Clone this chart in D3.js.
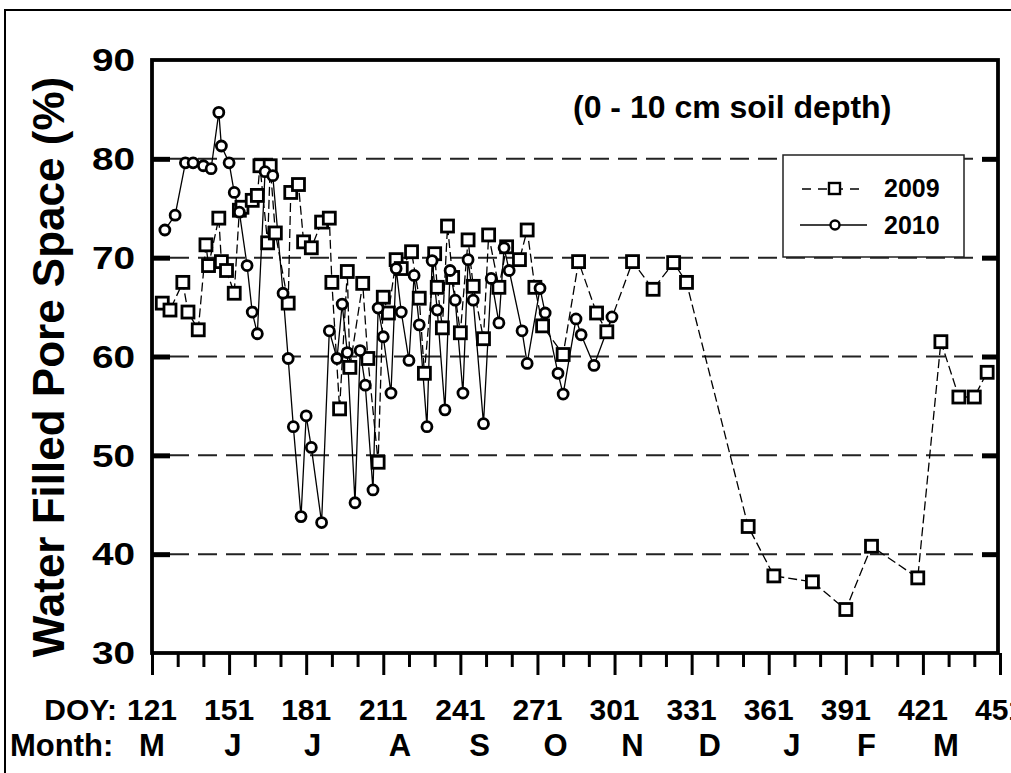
<!DOCTYPE html>
<html>
<head>
<meta charset="utf-8">
<script src="https://cdn.jsdelivr.net/npm/d3@7"></script>
<style>
  body { margin: 0; background: #fff; }
  svg text { font-family: "Liberation Sans", Arial, sans-serif; font-weight: bold; fill: #000; }
</style>
</head>
<body>
<svg id="chart"></svg>
<script>
// 2009 readings (squares, dashed line)
var doy2009 = [125,128,133,135,139,142,143,147,148,150,153,155,156,160,162,163,166,167,169,174,
  175,178,180,183,187,190,191,194,197,198,203,205,209,211,213,216,218,222,225,227,
  231,232,234,236,238,241,244,246,250,252,256,259,264,267,270,273,281,287,294,298,
  308,316,324,329,353,363,378,391,401,419,428,435,441,446];
var wfps2009 = [65.4,64.7,67.5,64.5,62.7,71.3,69.2,74.0,69.6,68.7,66.4,74.8,75.1,75.8,76.3,79.3,71.5,79.3,72.5,65.4,
  76.6,77.4,71.6,71.0,73.6,74.0,67.5,54.7,68.6,58.9,67.4,59.8,49.3,66.0,64.4,69.8,68.9,70.6,65.9,58.3,
  70.4,67.0,62.9,73.2,68.0,62.4,71.8,67.1,61.8,72.3,67.0,71.1,69.8,72.8,67.0,63.1,60.2,69.6,64.4,62.5,
  69.6,66.8,69.5,67.5,42.8,37.8,37.2,34.4,40.8,37.6,61.5,55.9,55.9,58.4];

// 2010 readings (circles, solid line)
var doy2010 = [126,130,134,137,141,144,147,148,151,153,155,158,160,162,165,168,172,174,176,179,
  181,183,187,190,193,195,197,200,202,204,207,209,211,214,216,218,221,223,225,228,
  230,232,235,237,239,242,244,246,250,253,256,258,260,265,267,272,274,279,281,286,
  288,293,300];
var wfps2010 = [72.8,74.3,79.6,79.6,79.3,79.0,84.7,81.3,79.6,76.6,74.6,69.2,64.5,62.3,78.7,78.3,66.4,59.8,52.9,43.8,
  54.0,50.8,43.2,62.6,59.8,65.3,60.4,45.2,60.6,57.1,46.5,64.9,62.0,56.3,68.9,64.5,59.6,68.2,63.2,52.9,
  69.7,64.7,54.6,68.7,65.7,56.3,69.8,65.7,53.2,67.9,63.4,71.0,68.7,62.6,59.3,66.9,64.4,58.3,56.2,63.8,
  62.2,59.1,64.0];

var yTicks = [30,40,50,60,70,80,90];
var gridValues = [40,50,60,70,80];
var doyTicks = [121,151,181,211,241,271,301,331,361,391,421,451];
var monthLetters = ["M","J","J","A","S","O","N","D","J","F","M"];
var monthDoy = [121,152.5,183.5,217.5,248.5,278,308,338,370,399,430];

var width = 1011, height = 773;
var svg = d3.select("#chart").attr("width", width).attr("height", height);

var x = d3.scaleLinear().domain([121, 451]).range([152, 1000]);
var y = d3.scaleLinear().domain([30, 90]).range([653, 60]);

// outer border of the figure
svg.append("rect").attr("x", 5).attr("y", 10).attr("width", 1200).attr("height", 1000)
  .attr("fill", "none").attr("stroke", "#000").attr("stroke-width", 2);

// dashed grid
svg.append("g").selectAll("line").data(gridValues).enter().append("line")
  .attr("x1", 170).attr("x2", 982)
  .attr("y1", d => y(d)).attr("y2", d => y(d))
  .attr("stroke", "#222").attr("stroke-width", 2)
  .attr("stroke-dasharray", "19,9");

// y tick marks, inward on both sides
svg.append("g").attr("transform", "translate(152,0)")
  .call(d3.axisRight(y).tickValues(gridValues).tickSize(18).tickFormat(""))
  .call(g => g.select(".domain").remove())
  .selectAll("line").attr("stroke-width", 5);
svg.append("g").attr("transform", "translate(998,0)")
  .call(d3.axisLeft(y).tickValues(gridValues).tickSize(16).tickFormat(""))
  .call(g => g.select(".domain").remove())
  .selectAll("line").attr("stroke-width", 5);

// x tick marks, outward
var minor = d3.range(131, 451, 10).filter(d => (d - 121) % 30 !== 0);
svg.append("g").attr("transform", "translate(0,653)")
  .call(d3.axisBottom(x).tickValues(doyTicks).tickSize(22).tickFormat(""))
  .call(g => g.select(".domain").remove())
  .selectAll("line").attr("stroke-width", 3);
svg.append("g").attr("transform", "translate(0,653)")
  .call(d3.axisBottom(x).tickValues(minor).tickSize(14).tickFormat(""))
  .call(g => g.select(".domain").remove())
  .selectAll("line").attr("stroke-width", 3);

// y tick labels
svg.append("g").selectAll("text").data(yTicks).enter().append("text")
  .attr("transform", d => "translate(135," + y(d) + ") scale(1.25,1)")
  .attr("text-anchor", "end").attr("dy", "0.36em")
  .style("font-size", "31px")
  .text(d => d);

// DOY and month rows
svg.append("text").attr("x", 117).attr("y", 720).attr("text-anchor", "end")
  .style("font-size", "30px").text("DOY:");
svg.append("g").selectAll("text").data(doyTicks).enter().append("text")
  .attr("x", d => x(d)).attr("y", 720).attr("text-anchor", "middle")
  .style("font-size", "30px").text(d => d);
svg.append("text").attr("x", 10).attr("y", 756)
  .style("font-size", "31px").text("Month:");
svg.append("g").selectAll("text").data(monthLetters).enter().append("text")
  .attr("x", (d, i) => x(monthDoy[i])).attr("y", 756).attr("text-anchor", "middle")
  .style("font-size", "31px").text(d => d);

// y axis title
svg.append("text").attr("transform", "translate(64,367) rotate(-90)")
  .attr("text-anchor", "middle").style("font-size", "44px")
  .text("Water Filled Pore Space (%)");

// annotation
svg.append("text").attr("x", 573).attr("y", 118).style("font-size", "32px")
  .text("(0 - 10 cm soil depth)");

// series lines
var s2009 = doy2009.map((d, i) => [d, wfps2009[i]]);
var s2010 = doy2010.map((d, i) => [d, wfps2010[i]]);
var line = d3.line().x(d => x(d[0])).y(d => y(d[1]));

svg.append("path").datum(s2009).attr("d", line)
  .attr("fill", "none").attr("stroke", "#000").attr("stroke-width", 1.3)
  .attr("stroke-dasharray", "9,4");
svg.append("path").datum(s2010).attr("d", line)
  .attr("fill", "none").attr("stroke", "#000").attr("stroke-width", 1.3);

svg.append("g").selectAll("rect").data(s2009).enter().append("rect")
  .attr("x", d => x(d[0]) - 6).attr("y", d => y(d[1]) - 6)
  .attr("width", 12).attr("height", 12)
  .attr("fill", "#fff").attr("stroke", "#000").attr("stroke-width", 2.8);
svg.append("g").selectAll("circle").data(s2010).enter().append("circle")
  .attr("cx", d => x(d[0])).attr("cy", d => y(d[1])).attr("r", 5)
  .attr("fill", "#fff").attr("stroke", "#000").attr("stroke-width", 2.8);

// legend
var lg = svg.append("g");
lg.append("rect").attr("x", 783).attr("y", 155).attr("width", 181).attr("height", 102)
  .attr("fill", "#fff").attr("stroke", "#222").attr("stroke-width", 1.5);
lg.append("line").attr("x1", 802).attr("x2", 862).attr("y1", 189).attr("y2", 189)
  .attr("stroke", "#000").attr("stroke-width", 1.3).attr("stroke-dasharray", "9,7");
lg.append("rect").attr("x", 829).attr("y", 183).attr("width", 11).attr("height", 11)
  .attr("fill", "#fff").attr("stroke", "#000").attr("stroke-width", 2.4);
lg.append("line").attr("x1", 800).attr("x2", 867).attr("y1", 225).attr("y2", 225)
  .attr("stroke", "#000").attr("stroke-width", 1.3);
lg.append("circle").attr("cx", 835).attr("cy", 225).attr("r", 4.5)
  .attr("fill", "#fff").attr("stroke", "#000").attr("stroke-width", 2.4);
lg.append("text").attr("x", 884).attr("y", 197).style("font-size", "25px").text("2009");
lg.append("text").attr("x", 884).attr("y", 234).style("font-size", "25px").text("2010");

// plot frame
svg.append("rect").attr("x", 152).attr("y", 60).attr("width", 846).attr("height", 593)
  .attr("fill", "none").attr("stroke", "#000").attr("stroke-width", 3.8);
</script>
</body>
</html>
